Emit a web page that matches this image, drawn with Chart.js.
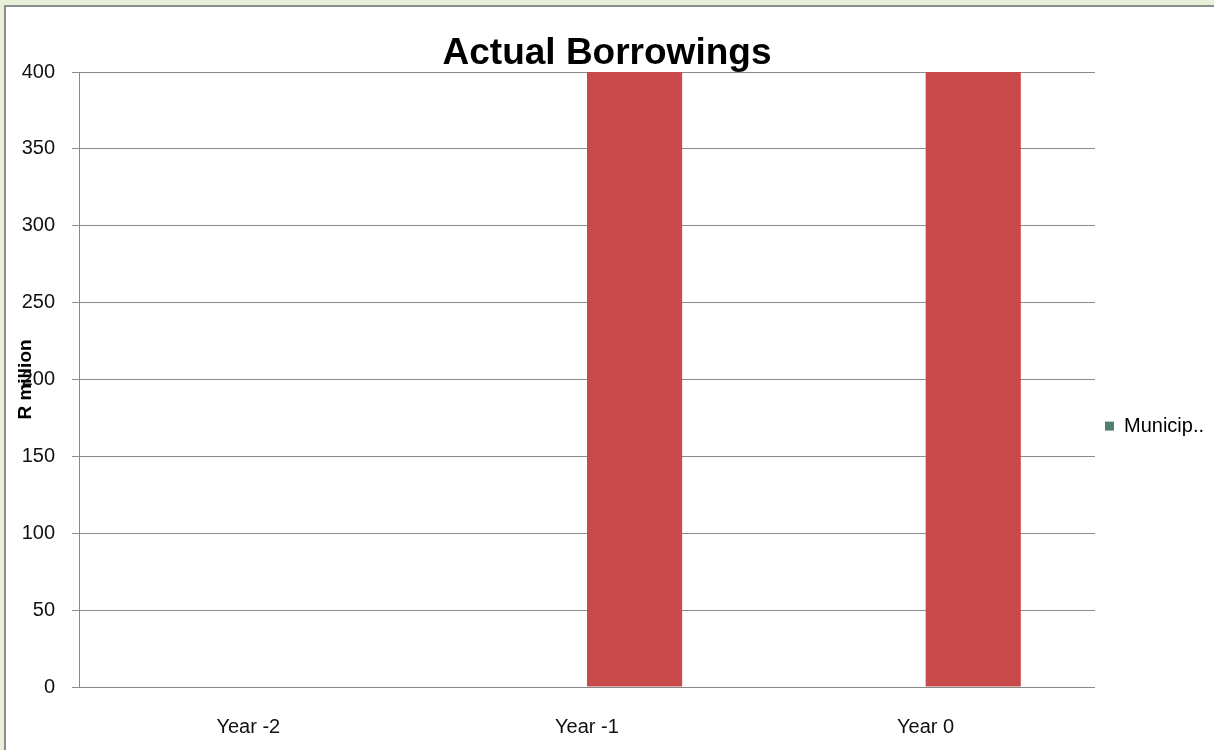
<!DOCTYPE html>
<html>
<head>
<meta charset="utf-8">
<script src="https://cdn.jsdelivr.net/npm/chart.js@4/dist/chart.umd.min.js"></script>
<style>
  html, body { margin:0; padding:0; width:1214px; height:750px; overflow:hidden; background:#e8f0da; }
  #frame { position:absolute; left:4px; top:5px; width:1220px; height:760px; background:#fff; border:2px solid #8c8c8c; }
  #wrap { position:absolute; left:0; top:0; width:1214px; height:750px; }
</style>
</head>
<body>
<div id="frame"></div>
<div id="wrap"><canvas id="c" width="1214" height="750"></canvas></div>
<script>
const categories = ['Year -2', 'Year -1', 'Year 0'];
const municipValues = [0, 0, 0];
const borrowingValues = [0, 400, 400];
const yTicks = [0, 50, 100, 150, 200, 250, 300, 350, 400];

const ctx = document.getElementById('c').getContext('2d');
new Chart(ctx, {
  type: 'bar',
  data: {
    labels: categories,
    datasets: [
      { label: 'Municip..', data: municipValues, backgroundColor: '#4f7f73' },
      { label: 'Borrowings', data: borrowingValues, backgroundColor: '#c84a4a' }
    ]
  },
  options: {
    responsive: false,
    animation: false,
    devicePixelRatio: 1,
    layout: { padding: { top: 35, left: 0, right: 0, bottom: 0 } },
    datasets: { bar: { categoryPercentage: 0.562, barPercentage: 1.0 } },
    plugins: {
      title: {
        display: true,
        text: 'Actual Borrowings',
        color: '#000',
        font: { family: 'Liberation Sans, Arial, sans-serif', size: 37, weight: 'bold', lineHeight: 1 },
        padding: { top: 0, bottom: 0 }
      },
      legend: {
        display: true,
        position: 'right',
        title: { display: true, text: ' ', font: { size: 1 }, padding: { top: 33, bottom: 33 } },
        labels: {
          filter: (item) => item.text === 'Municip..',
          boxWidth: 9, boxHeight: 9,
          color: '#000',
          font: { family: 'Liberation Sans, Arial, sans-serif', size: 20 },
          padding: 10
        }
      },
      tooltip: { enabled: false }
    },
    scales: {
      x: {
        grid: { display: false, drawTicks: false },
        border: { display: true, color: '#8a8a8a', width: 1 },
        ticks: { color: '#111', font: { family: 'Liberation Sans, Arial, sans-serif', size: 20 }, padding: 28 },
        afterFit: (s) => { s.height = 63; }
      },
      y: {
        min: 0, max: 400,
        afterBuildTicks: (s) => { s.ticks = yTicks.map(v => ({ value: v })); },
        grid: { color: '#8a8a8a', lineWidth: 1, tickLength: 7, drawTicks: true },
        border: { display: true, color: '#8a8a8a', width: 1 },
        ticks: { color: '#111', font: { family: 'Liberation Sans, Arial, sans-serif', size: 20 }, padding: 17 },
        title: {
          display: true, text: 'R million', color: '#000',
          font: { family: 'Liberation Sans, Arial, sans-serif', size: 19, weight: 'bold' },
          padding: { top: 14, bottom: 0 }
        },
        afterFit: (s) => { s.width = 79; }
      }
    }
  }
});
</script>
</body>
</html>
